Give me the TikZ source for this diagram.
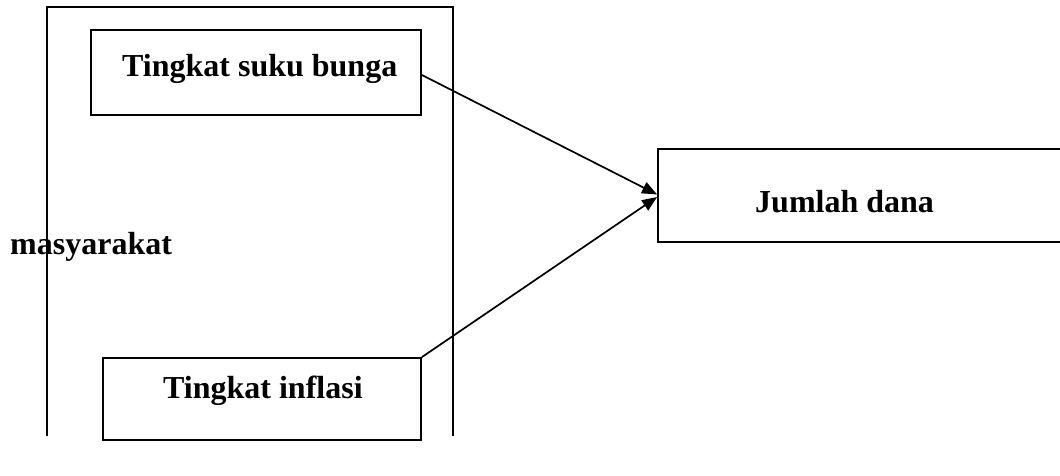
\documentclass[tikz,border=0pt]{standalone}
\usepackage{fontspec}
\setmainfont{Liberation Serif}
\usetikzlibrary{arrows.meta}
\begin{document}
\begin{tikzpicture}[x=1pt,y=1pt,
  box/.style={draw,line width=1.8pt,rectangle,inner sep=0pt},
  lbl/.style={anchor=base west,inner sep=0pt,font=\fontsize{32}{38}\selectfont\bfseries},
  conn/.style={line width=1.7pt,-{Triangle[length=15pt,width=12pt]}}]
\useasboundingbox (0,0) rectangle (1060,476);
% outer frame (open at the bottom)
\coordinate (fbl) at (46.5,40);
\coordinate (ftl) at (46.5,469);
\coordinate (ftr) at (453,469);
\coordinate (fbr) at (453,40);
\draw[line width=2pt] (fbl) -- (ftl) -- (ftr) -- (fbr);
% boxes
\node[box,minimum width=330pt,minimum height=85pt] (b1) at (256,403.5) {};
\node[box,minimum width=318pt,minimum height=82pt] (b2) at (262,77) {};
\node[box,minimum width=404pt,minimum height=93pt] (b3) at (860,280.5) {};
% labels
\node[lbl] (t1) at (122,399) {Tingkat suku bunga};
\node[lbl] (t2) at (163,77) {Tingkat inflasi};
\node[lbl] (t3) at (755,263) {Jumlah dana};
\node[lbl] (t4) at (10,221) {masyarakat};
% connectors
\draw[conn] ([yshift=-2.5pt]b1.east) -- ([yshift=1pt]b3.west);
\draw[conn] (b2.north east) -- ([yshift=-1.5pt]b3.west);
\end{tikzpicture}
\end{document}
